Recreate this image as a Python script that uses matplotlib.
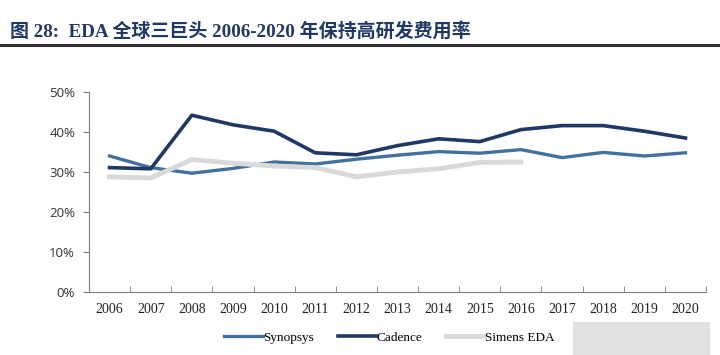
import matplotlib.pyplot as plt
from matplotlib.patches import Rectangle

# values (R&D expense ratio, %)
years = [str(y) for y in range(2006, 2021)]
synopsys = [34.0, 31.1, 29.7, 30.9, 32.5, 32.0, 33.2, 34.2, 35.1, 34.7, 35.6, 33.6, 34.9, 34.0, 34.8]
cadence = [31.1, 30.8, 44.2, 41.8, 40.2, 34.8, 34.3, 36.6, 38.3, 37.6, 40.6, 41.6, 41.6, 40.2, 38.5]
simens = [28.8, 28.5, 33.1, 32.2, 31.5, 31.1, 28.8, 30.0, 30.8, 32.4, 32.5]
yticks = [0, 10, 20, 30, 40, 50]

title = "图 28:  EDA 全球三巨头 2006-2020 年保持高研发费用率"


def main():
    fig = plt.figure(figsize=(7.2, 3.55), dpi=100)

    # title + rule under it
    fig.text(0.014, 0.913, title, fontsize=13.7, fontweight="bold", color="#1F3864",
             family=["Liberation Serif", "Noto Sans CJK SC"], va="center")
    fig.add_artist(plt.Line2D([0.0, 1.0], [0.872, 0.872], color="#333333", lw=2.2))

    ax = fig.add_axes([0.1236, 0.1775, 0.857, 0.5633])
    x = list(range(len(years)))
    ax.plot(x, synopsys, color="#41719C", lw=2.4, label="Synopsys")
    ax.plot(x, cadence, color="#1F3864", lw=2.6, label="Cadence")
    ax.plot(x[:len(simens)], simens, color="#D9D9D9", lw=3.5, label="Simens EDA")

    ax.set_ylim(0, 50)
    ax.set_xlim(-0.5, len(years) - 0.5)
    ax.set_yticks(yticks)
    ax.set_yticklabels([f"{v}%" for v in yticks], fontsize=9.5, color="#333333",
                       family="Open Sans")
    ax.set_xticks(x)
    ax.set_xticklabels(years, fontsize=10, family="Liberation Serif", color="#222222")
    ax.set_xticks([i - 0.5 for i in range(len(years) + 1)], minor=True)
    ax.tick_params(axis="x", which="major", length=0, pad=8)
    ax.tick_params(axis="x", which="minor", direction="in", length=4, color="#808080")
    ax.tick_params(axis="y", direction="out", length=4, color="#808080", pad=6)

    for side in ["top", "right"]:
        ax.spines[side].set_visible(False)
    ax.spines["left"].set_color("#808080")
    ax.spines["bottom"].set_color("#808080")

    fig.legend(loc="center", bbox_to_anchor=(0.541, 0.048), ncol=3, frameon=False,
               handlelength=2.9, handletextpad=0.05, columnspacing=1.8,
               prop={"family": "Liberation Serif", "size": 9.5})

    # blurred watermark box at lower right
    fig.add_artist(Rectangle((0.796, 0.0), 0.19, 0.093, transform=fig.transFigure,
                             color="#DADADA", alpha=0.8, lw=0))

    fig.savefig("out.png", dpi=100)
    plt.close(fig)


if __name__ == "__main__":
    main()
